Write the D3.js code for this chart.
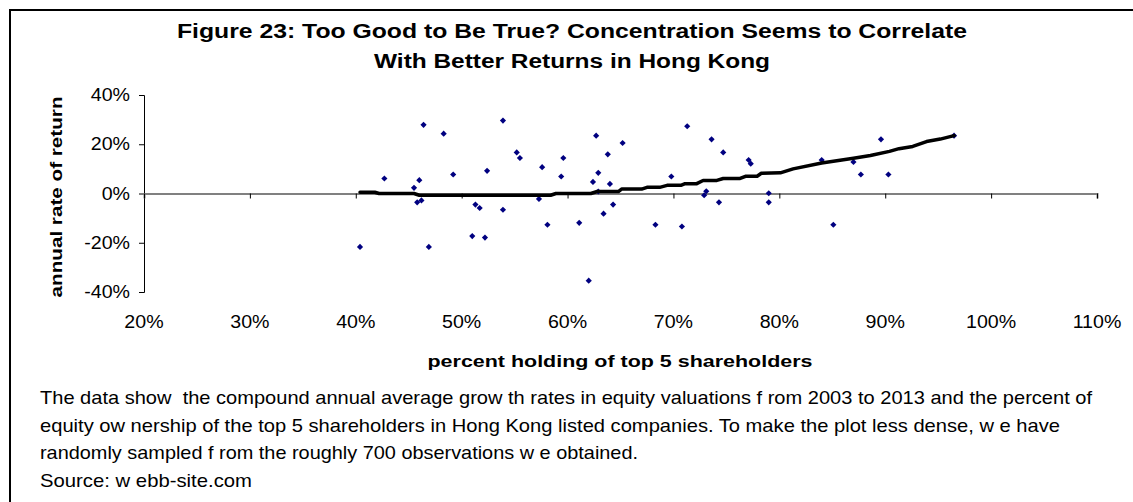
<!DOCTYPE html>
<html>
<head>
<meta charset="utf-8">
<script src="https://cdn.jsdelivr.net/npm/d3@7"></script>
<style>
  body { margin: 0; background: #fff; }
  svg text { font-family: "Liberation Sans", Arial, sans-serif; fill: #000; }
</style>
</head>
<body>
<svg id="svg1" width="1133" height="502"></svg>
<script>
// percent holding of top 5 shareholders (x) and annual rate of return (y), in %
var holding = [40.4, 42.7, 46.4, 48.3, 46.0, 45.5, 45.8, 46.2, 49.2, 46.9,
               53.9, 55.2, 55.5, 52.4, 51.3, 51.7, 53.9, 51.0, 52.2, 57.6,
               59.6, 59.4, 57.3, 58.1, 61.1, 62.0, 62.7, 63.8, 65.2, 62.9,
               62.4, 64.0, 62.9, 64.3, 63.4, 68.3, 70.8, 69.8, 71.3, 73.6,
               74.7, 77.1, 77.3, 73.1, 72.9, 74.3, 79.0, 79.0, 84.0, 85.1,
               87.0, 87.7, 89.6, 90.3, 96.5];
var returns = [-21.7, 6.1, 27.9, 24.3, 5.4, 2.3, -3.6, -2.8, 7.7, -21.7,
               29.6, 16.7, 14.4, 9.2, -4.5, -5.9, -6.6, -17.3, -17.9, 10.7,
               14.4, 6.9, -2.2, -12.7, -11.9, -35.4, 23.5, 15.9, 20.5, 8.4,
               4.7, 3.9, 0.8, -4.5, -8.2, -12.7, -13.4, 6.9, 27.3, 22.0,
               16.7, 13.6, 12.1, 0.9, -0.7, -3.6, 0.1, -3.6, 13.6, -12.7,
               12.8, 7.7, 22.0, 7.7, 23.5];

// smoothed trend line
var trendX = [40.4, 41.8, 42.2, 45.5, 46.0, 58.4, 58.9, 62.2, 62.8, 64.8, 65.1, 67.0,
              67.5, 68.7, 69.4, 70.7, 71.1, 72.2, 72.8, 74.1, 74.7, 76.3, 76.8, 77.9,
              78.3, 80.1, 81.3, 84.0, 87.0, 88.6, 90.4, 91.3, 92.6, 93.9, 95.2, 96.5];
var trendY = [0.5, 0.5, 0.0, 0.0, -0.7, -0.7, 0.0, 0.0, 0.8, 0.8, 1.8, 1.8,
              2.5, 2.5, 3.3, 3.3, 4.0, 4.0, 5.3, 5.3, 6.1, 6.1, 7.0, 7.0,
              8.2, 8.4, 10.0, 12.4, 14.3, 15.4, 17.1, 18.2, 19.1, 21.1, 22.1, 23.5];

var xTicks = [20, 30, 40, 50, 60, 70, 80, 90, 100, 110];
var yTicks = [-40, -20, 0, 20, 40];

var titleLines = ["Figure 23: Too Good to Be True? Concentration Seems to Correlate",
                  "With Better Returns in Hong Kong"];
var captionLines = [
  "The data show  the compound annual average grow th rates in equity valuations f rom 2003 to 2013 and the percent of",
  "equity ow nership of the top 5 shareholders in Hong Kong listed companies. To make the plot less dense, w e have",
  "randomly sampled f rom the roughly 700 observations w e obtained.",
  "Source: w ebb-site.com"
];
var xTitle = "percent holding of top 5 shareholders";
var yTitle = "annual rate of return";

var svg = d3.select("#svg1");

var x = d3.scaleLinear().domain([20, 110]).range([144, 1097]);
var y = d3.scaleLinear().domain([-40, 40]).range([292, 95]);

// stretch text horizontally to a given width (the source is wider than plain Arial)
function fit(sel, w) {
  sel.attr("textLength", w).attr("lengthAdjust", "spacingAndGlyphs");
}
function stretch(sel, k) {
  sel.each(function() {
    var len = this.getComputedTextLength();
    d3.select(this).attr("textLength", len * k).attr("lengthAdjust", "spacingAndGlyphs");
  });
}

// frame
svg.append("rect")
    .attr("x", 10).attr("y", 10)
    .attr("width", 1200).attr("height", 600)
    .attr("fill", "none")
    .attr("stroke", "#000")
    .attr("stroke-width", 2);

// title
var tw = [790, 396], tb = [38, 68];
titleLines.forEach(function(t, i) {
  svg.append("text")
      .attr("x", 572).attr("y", tb[i])
      .attr("text-anchor", "middle")
      .attr("font-size", 20)
      .attr("font-weight", "bold")
      .text(t)
      .call(fit, tw[i]);
});

// y axis
var yAxis = d3.axisLeft(y).tickValues(yTicks).tickSize(5).tickPadding(9)
    .tickFormat(function(d) { return d + "%"; });
var gy = svg.append("g")
    .attr("transform", "translate(" + x(20) + ",0)")
    .call(yAxis);
gy.select(".domain").attr("stroke", "#000").attr("stroke-width", 1);
gy.selectAll(".tick line").attr("stroke", "#000");
gy.selectAll(".tick text")
    .attr("font-size", 17.5)
    .attr("font-family", "Liberation Sans, Arial, sans-serif")
    .attr("fill", "#000")
    .call(stretch, 1.12);

// x axis along the zero line, labels at the bottom
var xAxis = d3.axisBottom(x).tickValues(xTicks).tickSize(5).tickFormat("");
var gx = svg.append("g")
    .attr("transform", "translate(0," + y(0) + ")")
    .call(xAxis);
gx.select(".domain").attr("stroke", "#808080").attr("stroke-width", 2);
gx.selectAll(".tick line").attr("stroke", "#000");

svg.append("g").selectAll("text")
    .data(xTicks)
  .enter().append("text")
    .attr("x", function(d) { return x(d); })
    .attr("y", 328)
    .attr("text-anchor", "middle")
    .attr("font-size", 17.5)
    .text(function(d) { return d + "%"; })
    .call(stretch, 1.12);

// axis titles
svg.append("text")
    .attr("transform", "translate(62," + 197 + ") rotate(-90)")
    .attr("text-anchor", "middle")
    .attr("font-size", 17)
    .attr("font-weight", "bold")
    .text(yTitle)
    .call(fit, 201);

svg.append("text")
    .attr("x", 620).attr("y", 367)
    .attr("text-anchor", "middle")
    .attr("font-size", 17)
    .attr("font-weight", "bold")
    .text(xTitle)
    .call(fit, 385);

// points
var pts = holding.map(function(h, i) { return {x: h, y: returns[i]}; });
svg.append("g").selectAll("path")
    .data(pts)
  .enter().append("path")
    .attr("d", d3.symbol().type(d3.symbolSquare).size(19))
    .attr("transform", function(d) {
      return "translate(" + x(d.x) + "," + y(d.y) + ") rotate(45)";
    })
    .attr("fill", "#000080");

// trend line
var trend = trendX.map(function(v, i) { return [v, trendY[i]]; });
var line = d3.line()
    .x(function(d) { return x(d[0]); })
    .y(function(d) { return y(d[1]); });
svg.append("path")
    .datum(trend)
    .attr("d", line)
    .attr("fill", "none")
    .attr("stroke", "#000")
    .attr("stroke-width", 3.5)
    .attr("stroke-linejoin", "round")
    .attr("stroke-linecap", "round");

// caption
var cw = [1052, 1020, 598, 212], cb = [404, 431.5, 459, 486.5];
captionLines.forEach(function(t, i) {
  svg.append("text")
      .attr("x", 40).attr("y", cb[i])
      .attr("font-size", 19)
      .attr("xml:space", "preserve")
      .style("white-space", "pre")
      .text(t)
      .call(fit, cw[i]);
});
</script>
</body>
</html>
